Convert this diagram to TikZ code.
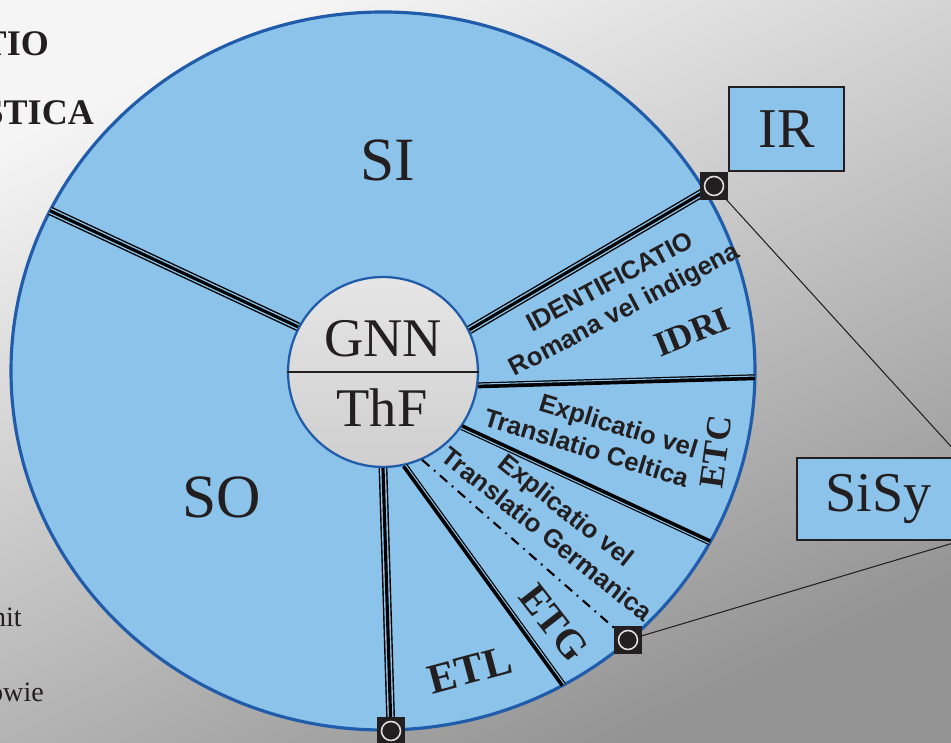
\documentclass[tikz,border=0pt]{standalone}
\usepackage{fontspec}
\setmainfont{Liberation Serif}
\setsansfont{Liberation Sans}
\usepackage{tikz}
\usetikzlibrary{positioning,calc}
\definecolor{wheelblue}{RGB}{140,195,234}
\definecolor{wheeledge}{RGB}{32,92,170}
\definecolor{inkdark}{RGB}{35,31,32}

\begin{document}
\begin{tikzpicture}[x=0.02cm, y=0.02cm,
    wheel/.style={fill=wheelblue, draw=wheeledge, line width=1.8pt},
    hub/.style={circle, minimum size=3.8cm, inner sep=0pt, top color=gray!20, bottom color=gray!38, draw=wheeledge, line width=1.3pt},
    triple/.style={draw=black, line width=5pt, postaction={draw=wheelblue, line width=3.4pt}, postaction={draw=black, line width=1.8pt}},
    heavy/.style={draw=black, line width=3.4pt},
    gapline/.style={draw=wheelblue, line width=0.6pt},
    dashdot/.style={draw=black, line width=1.2pt, dash pattern=on 5.5pt off 3.5pt on 1pt off 3.5pt},
    jack/.style={fill=inkdark, minimum size=0.55cm, inner sep=0pt},
    jackdot/.style={circle, fill=inkdark, draw=gray!25, line width=0.9pt, minimum size=0.38cm, inner sep=0pt},
    tag/.style={draw=inkdark, line width=0.9pt, fill=wheelblue, text=inkdark, font=\fontsize{32}{36}\selectfont, inner sep=0pt},
    big/.style={text=inkdark, font=\fontsize{35}{40}\selectfont},
    core/.style={text=inkdark, font=\fontsize{31}{36}\selectfont},
    latin/.style={text=inkdark, font=\sffamily\bfseries\fontsize{14.6}{17.5}\selectfont},
    code/.style={text=inkdark, font=\bfseries\fontsize{20}{22}\selectfont},
    stub/.style={text=inkdark, anchor=base east, font=\fontsize{20.5}{24}\selectfont}
]
    \clip (0,0) rectangle (951,743);
    \shade[top color=gray!8, bottom color=gray!85, shading angle=25] (0,0) rectangle (951,743);

    % cut-off words of the neighbouring text
    \node[stub] (w1) at (55,687) {\textbf{TIO}};
    \node[stub] (w2) at (100,618) {\textbf{STICA}};
    \node[stub, font=\fontsize{16}{20}\selectfont] (w3) at (28,116) {nit};
    \node[stub, font=\fontsize{16}{20}\selectfont] (w4) at (50,41) {owie};

    % Wheel
    \coordinate (C) at (383,372);
    \draw[wheel] (C) ellipse [x radius=372, y radius=359];
    \node[hub] (hub) at (383,371) {};

    % rim points
    \coordinate (r1) at ($(C)+(153.5:372 and 359)$);
    \coordinate (r3) at ($(C)+(-1:372 and 359)$);
    \coordinate (r4) at ($(C)+(-28.5:372 and 359)$);
    \coordinate (r6) at ($(C)+(-61:372 and 359)$);

    % Jacks on the rim
    \node[jack] (irsq) at (714,557) {};
    \node[jack] (sisq) at (628,103) {};
    \node[jack] (losq) at (391,12) {};

    % Spokes
    \draw[triple] (hub.152.6) -- (r1);
    \draw[triple] (hub.26.3) -- (irsq.center);
    \draw[heavy] (hub.352) -- (r3);
    \draw[gapline] ($(hub.352)!0.7pt!90:(r3)$) -- ($(r3)!0.7pt!-90:(hub.352)$);
    \draw[heavy] (hub.325.2) -- (r4);
    \draw[gapline] ($(hub.325.2)!0.7pt!-90:(r4)$) -- ($(r4)!0.7pt!90:(hub.325.2)$);
    \draw[dashdot] (hub.294) -- (sisq);
    \draw[heavy] (hub.283) -- (r6);
    \draw[gapline] ($(hub.283)!0.7pt!90:(r6)$) -- ($(r6)!0.7pt!-90:(hub.283)$);
    \draw[triple] (hub.270) -- (losq.center);

    % redraw jacks over the spokes
    \node[jack] at (irsq) {};
    \node[jack] at (sisq) {};
    \node[jack] at (losq) {};
    \node[jackdot] (irdot) at (irsq) {};
    \node[jackdot] (sidot) at (sisq) {};
    \node[jackdot] (lodot) at (losq) {};

    % Hub
    \draw[inkdark, line width=0.8pt] (hub.west) -- (hub.east);
    \node[core] (gnn) at (383,404) {GNN};
    \node[core] (thf) at (382,335) {ThF};

    % Sectors
    \node[big] (si) at (388,583) {SI};
    \node[big] (so) at (222,246) {SO};
    \node[latin, align=center, rotate=28] (idrtext) at (618,445.5) {IDENTIFICATIO\\Romana vel indigena};
    \node[code, rotate=22] (idri) at (692,411) {IDRI};
    \node[latin, align=right, rotate=-17] (etctext) at (591,310) {Explicatio vel\\Translatio Celtica};
    \node[code, rotate=82] (etc) at (716,291) {ETC};
    \node[latin, align=center, rotate=-38.5] (etgtext) at (557,221) {Explicatio vel\\Translatio Germanica};
    \node[code, rotate=-52, font=\bfseries\fontsize{23}{25}\selectfont] (etg) at (554,120) {ETG};
    \node[code, rotate=15, font=\bfseries\fontsize{24}{26}\selectfont] (etl) at (470,73) {ETL};

    % Boxes and their leads
    \node[tag, minimum width=2.3cm, minimum height=1.68cm] (ir) at (786.5,614) {IR};
    \node[tag, minimum width=3.26cm, minimum height=1.64cm] (sisy) at (878.5,244) {SiSy};
    \draw[inkdark, line width=0.6pt] (irdot) -- (sisy.north east);
    \draw[inkdark, line width=0.6pt] (sidot) -- (sisy.south east);
\end{tikzpicture}
\end{document}
